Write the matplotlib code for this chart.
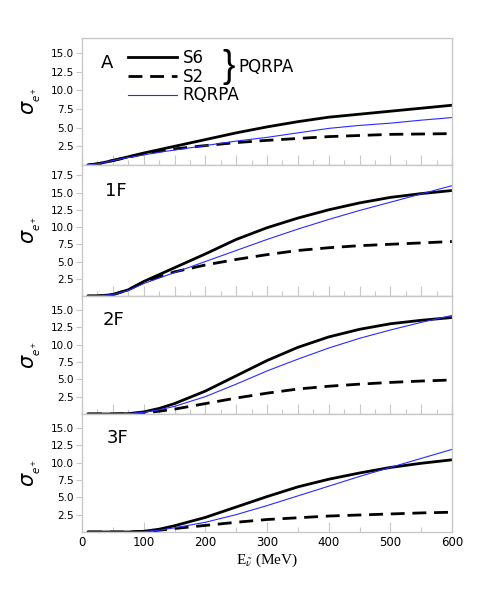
import numpy as np
import matplotlib
matplotlib.use("Agg")
import matplotlib.pyplot as plt
from matplotlib.lines import Line2D

# Energy grid (MeV) shared by all panels
energy = [10, 25, 50, 75, 100, 125, 150, 200, 250, 300, 350, 400, 450, 500, 550, 600]

# Panel A
a_s6 = [0, 0.15, 0.6, 1.1, 1.6, 2.05, 2.5, 3.4, 4.3, 5.1, 5.8, 6.4, 6.8, 7.2, 7.6, 8.0]
a_s2 = [0, 0.15, 0.6, 1.05, 1.5, 1.85, 2.15, 2.6, 3.0, 3.3, 3.55, 3.8, 3.95, 4.1, 4.15, 4.2]
a_rq = [0, 0.15, 0.6, 1.0, 1.35, 1.7, 2.0, 2.6, 3.2, 3.7, 4.3, 4.9, 5.3, 5.6, 6.0, 6.35]

# Panel 1F
f1_s6 = [0, 0, 0.2, 0.9, 2.1, 3.1, 4.1, 6.1, 8.2, 9.9, 11.3, 12.5, 13.5, 14.3, 14.85, 15.3]
f1_s2 = [0, 0, 0.2, 0.9, 2.0, 2.8, 3.5, 4.5, 5.3, 6.0, 6.6, 7.0, 7.3, 7.5, 7.7, 7.9]
f1_rq = [0, 0, 0.2, 0.8, 1.8, 2.6, 3.4, 5.0, 6.6, 8.2, 9.7, 11.1, 12.4, 13.6, 14.8, 16.0]

# Panel 2F
f2_s6 = [0, 0, 0, 0.05, 0.3, 0.8, 1.5, 3.3, 5.5, 7.7, 9.6, 11.1, 12.2, 13.0, 13.5, 13.9]
f2_s2 = [0, 0, 0, 0.05, 0.15, 0.4, 0.7, 1.5, 2.3, 3.0, 3.6, 4.0, 4.3, 4.55, 4.75, 4.9]
f2_rq = [0, 0, 0, 0.05, 0.25, 0.6, 1.1, 2.5, 4.3, 6.2, 7.9, 9.5, 10.9, 12.1, 13.2, 14.2]

# Panel 3F
f3_s6 = [0, 0, 0, 0, 0.1, 0.4, 0.9, 2.1, 3.6, 5.1, 6.5, 7.6, 8.5, 9.3, 9.9, 10.4]
f3_s2 = [0, 0, 0, 0, 0.05, 0.25, 0.5, 0.95, 1.4, 1.8, 2.05, 2.3, 2.45, 2.6, 2.75, 2.85]
f3_rq = [0, 0, 0, 0, 0.05, 0.25, 0.6, 1.4, 2.5, 3.8, 5.2, 6.6, 8.0, 9.3, 10.6, 11.9]

panel_names = ["A", "1F", "2F", "3F"]
panel_data = [(a_s6, a_s2, a_rq), (f1_s6, f1_s2, f1_rq),
              (f2_s6, f2_s2, f2_rq), (f3_s6, f3_s2, f3_rq)]
panel_ymax = [17, 19, 17, 17]
panel_yticks = [[2.5, 5, 7.5, 10, 12.5, 15],
                [2.5, 5, 7.5, 10, 12.5, 15, 17.5],
                [2.5, 5, 7.5, 10, 12.5, 15],
                [2.5, 5, 7.5, 10, 12.5, 15]]
label_x = [0.05, 0.062, 0.057, 0.068]

grey = "#c8c8c8"

fig = plt.figure(figsize=(4.91, 5.99), dpi=100)
gs = fig.add_gridspec(4, 1, left=82/491, right=452/491, top=1-38/599, bottom=1-532/599,
                      hspace=0, height_ratios=[127, 131, 118, 118])

axes = []
for i in range(4):
    ax = fig.add_subplot(gs[i])
    axes.append(ax)
    s6, s2, rq = panel_data[i]
    ax.plot(energy, s6, color="black", lw=2.0)
    ax.plot(energy, s2, color="black", lw=2.0, dashes=(5, 2.8))
    ax.plot(energy, rq, color="#2a2aff", lw=0.8)

    ax.set_xlim(0, 600)
    ax.set_ylim(0, panel_ymax[i])
    ax.set_yticks(panel_yticks[i])
    ax.set_yticklabels(["%.1f" % t for t in panel_yticks[i]])
    ax.set_xticks(np.arange(0, 601, 50))
    ax.set_xticks(np.arange(0, 601, 25), minor=True)

    for sp in ax.spines.values():
        sp.set_color(grey)
        sp.set_linewidth(1.0)

    ax.tick_params(axis="x", which="major", direction="in", length=7, color=grey, width=0.8)
    ax.tick_params(axis="x", which="minor", direction="in", length=3.5, color=grey, width=0.8)
    ax.tick_params(axis="y", which="major", direction="out", length=4, color=grey,
                   width=0.8, labelsize=7.5, pad=2)
    if i < 3:
        ax.tick_params(axis="x", labelbottom=False)
    else:
        ax.set_xticks([0, 100, 200, 300, 400, 500, 600],
                      labels=["0", "100", "200", "300", "400", "500", "600"])
        ax.set_xticks(np.arange(0, 601, 50), minor=True)
        ax.tick_params(axis="x", which="major", labelsize=8.5, pad=3)

    ax.set_ylabel(r"$\sigma_{_{e^{+}}}$", fontsize=15, labelpad=0)
    ax.yaxis.set_label_coords(-0.105, 0.5)

    ax.text(label_x[i], 0.80, panel_names[i], transform=ax.transAxes,
            fontsize=13, ha="left", va="center")

axes[3].set_xlabel(r"E$_{\tilde{\nu}}$ (MeV)", fontsize=11, family="Liberation Serif",
                   math_fontfamily="stix", labelpad=2)

# legend in panel A
handles = [Line2D([], [], color="black", lw=2.0),
           Line2D([], [], color="black", lw=2.0, dashes=(5, 2.8)),
           Line2D([], [], color="#2a2aff", lw=0.8)]
axes[0].legend(handles, ["S6", "S2", "RQRPA"], loc="upper left",
               bbox_to_anchor=(0.125, 0.915), frameon=False, fontsize=12,
               handlelength=2.9, handletextpad=0.35, labelspacing=0.05,
               borderpad=0, borderaxespad=0)
axes[0].text(0.395, 0.775, "}", transform=axes[0].transAxes, fontsize=27,
             ha="center", va="center", family="Liberation Sans")
axes[0].text(0.422, 0.77, "PQRPA", transform=axes[0].transAxes, fontsize=12,
             ha="left", va="center")

plt.savefig("out.png", dpi=100)
